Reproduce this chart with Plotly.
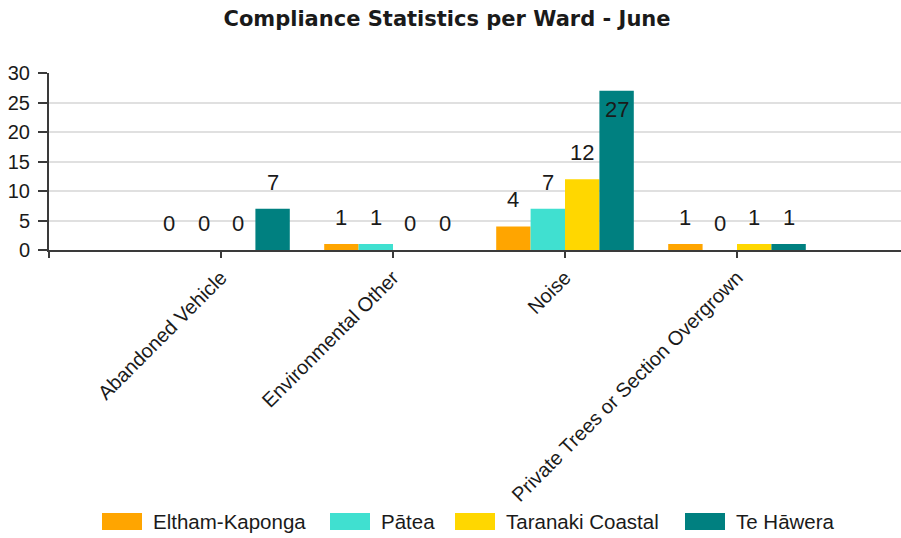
import plotly.graph_objects as go

# Complaint categories and ward counts
categories = [
    "Abandoned Vehicle",
    "Environmental Other",
    "Noise",
    "Private Trees or Section Overgrown",
]
wards = ["Eltham-Kaponga", "Pātea", "Taranaki Coastal", "Te Hāwera"]
eltham_kaponga = [0, 1, 4, 1]
patea = [0, 1, 7, 0]
taranaki_coastal = [0, 0, 12, 1]
te_hawera = [7, 0, 27, 1]
ward_values = [eltham_kaponga, patea, taranaki_coastal, te_hawera]
colors = ["#FFA500", "#40E0D0", "#FFD700", "#008080"]
y_ticks = [0, 5, 10, 15, 20, 25, 30]

W, H = 901, 538
ML, MR, MT, MB = 49, 0, 73, 288
BAR_W = 0.2
FONT = "Liberation Sans, Arial, sans-serif"
TEXT = "#1a1a1a"
AXIS = "#3a3a3a"

fig = go.Figure()
annotations = []
for j, (name, vals, col) in enumerate(zip(wards, ward_values, colors)):
    off = (j - (len(wards) - 1) / 2) * BAR_W
    xs = [i + off for i in range(len(categories))]
    fig.add_trace(go.Bar(
        x=xs, y=vals, width=BAR_W, name=name,
        marker=dict(color=col, line=dict(width=0)),
        showlegend=False,
    ))
    for x, v in zip(xs, vals):
        inside = v > 25
        annotations.append(dict(
            x=x, y=v, xref="x", yref="y", text=str(v), showarrow=False,
            yanchor="top" if inside else "bottom",
            yshift=-4 if inside else 12,
            font=dict(family=FONT, size=22, color=TEXT),
        ))

# Legend drawn as swatches with labels below the axis labels
pw = W - ML - MR
ph = H - MT - MB
def px_x(p):
    return (p - ML) / pw
def px_y(p):
    return (H - MB - p) / ph

legend_left = [102, 330, 455, 685]
shapes = []
for name, col, lx in zip(wards, colors, legend_left):
    shapes.append(dict(
        type="rect", xref="paper", yref="paper",
        x0=px_x(lx), x1=px_x(lx + 40), y0=px_y(530), y1=px_y(513),
        fillcolor=col, line=dict(width=0),
    ))
    annotations.append(dict(
        x=px_x(lx + 49), y=px_y(521.5), xref="paper", yref="paper",
        text=name, showarrow=False, xanchor="left", yanchor="middle",
        font=dict(family=FONT, size=20.5, color=TEXT),
    ))

fig.update_layout(
    width=W, height=H,
    margin=dict(l=ML, r=MR, t=MT, b=MB, pad=0),
    paper_bgcolor="white", plot_bgcolor="white",
    title=dict(
        text="<b>Compliance Statistics per Ward - June</b>",
        x=447 / W, xanchor="center", y=1 - 19 / H, yanchor="middle",
        font=dict(family="DejaVu Sans, Verdana, sans-serif", size=21, color=TEXT),
    ),
    barmode="overlay",
    xaxis=dict(
        range=[-1, (W - ML - MR) / 172 - 1],
        tickvals=[-1] + list(range(len(categories))),
        ticktext=[""] + categories,
        tickangle=-45,
        showline=True, linecolor=AXIS, linewidth=2,
        ticks="outside", ticklen=6, tickcolor=AXIS, tickwidth=1.5,
        showgrid=False, zeroline=False,
        tickfont=dict(family=FONT, size=20, color=TEXT),
    ),
    yaxis=dict(
        range=[0, 30], tickvals=y_ticks,
        showline=True, linecolor=AXIS, linewidth=2,
        ticks="outside", ticklen=9, tickcolor=AXIS, tickwidth=1.5,
        showgrid=True, gridcolor="#e0e0e0", gridwidth=2,
        zeroline=False,
        tickfont=dict(family=FONT, size=20, color=TEXT),
        ticklabelstandoff=4,
    ),
    shapes=shapes,
    annotations=annotations,
)

fig.write_html("out.html")
